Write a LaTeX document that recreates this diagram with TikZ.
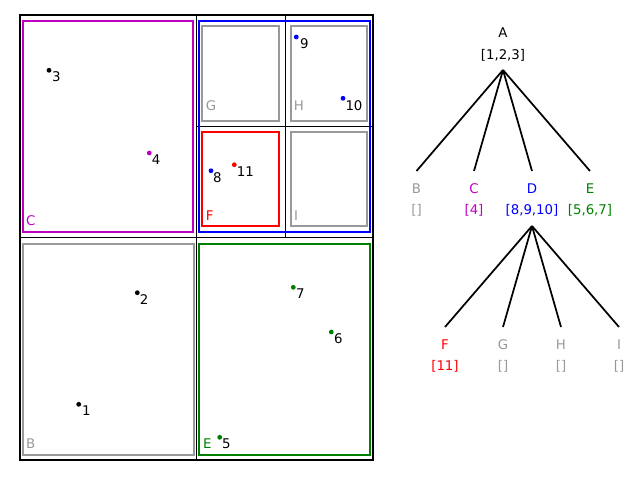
\documentclass[tikz,border=0pt]{standalone}
\usepackage{fontspec}
\setmainfont{DejaVu Sans}
\definecolor{cgray}{RGB}{153,153,153}
\definecolor{cmag}{RGB}{191,0,191}
\definecolor{cgreen}{RGB}{0,128,0}
\definecolor{cblue}{RGB}{0,0,255}
\definecolor{cred}{RGB}{255,0,0}
\begin{document}
\begin{tikzpicture}[x=0.75pt,y=-0.75pt,
  grid/.style={draw=black,line width=1pt},
  region/.style={line width=1.5pt},
  pt/.style={circle,inner sep=0pt,minimum size=3.6pt},
  lbl/.style={inner sep=0pt,font=\fontsize{10pt}{12pt}\selectfont},
  edge/.style={line width=1.3pt,black}]
\useasboundingbox (0,0) rectangle (640,480);
% grid
\draw[grid] (20,15) rectangle (373,460);
\draw[grid] (196.5,15) -- (196.5,460);
\draw[grid] (20,237.5) -- (373,237.5);
\draw[grid] (285.5,15) -- (285.5,237.5);
\draw[grid] (196.5,126.5) -- (373,126.5);
% regions
\draw[region,cmag] (22.5,21) rectangle (193,231.5);
\draw[region,cgray] (22.5,243.5) rectangle (193.5,455);
\draw[region,cblue] (199,21) rectangle (370,231.5);
\draw[region,cgreen] (199,243.5) rectangle (370,455);
\draw[region,cgray] (202,26) rectangle (279,121);
\draw[region,cgray] (290.5,26) rectangle (367,121);
\draw[region,cred] (202,132) rectangle (279,226);
\draw[region,cgray] (290.5,132) rectangle (367,226);
% region labels
\node[lbl,text=cmag] (rC) at (30.7,220.7) {C};
\node[lbl,text=cgray] (rB) at (30.7,443.3) {B};
\node[lbl,text=cgreen] (rE) at (207.3,443.3) {E};
\node[lbl,text=cgray] (rG) at (211,105.3) {G};
\node[lbl,text=cgray] (rH) at (299,105.3) {H};
\node[lbl,text=cred] (rF) at (209.7,216) {F};
\node[lbl,text=cgray] (rI) at (296,216) {I};
% points
\node[pt,fill=black] (p1) at (78.7,404.3) {};
\node[pt,fill=black] (p2) at (137.3,292.7) {};
\node[pt,fill=black] (p3) at (49,70.3) {};
\node[pt,fill=cmag] (p4) at (149.3,153) {};
\node[pt,fill=cgreen] (p5) at (219.7,437.3) {};
\node[pt,fill=cgreen] (p6) at (331.3,332) {};
\node[pt,fill=cgreen] (p7) at (293.3,287.3) {};
\node[pt,fill=cblue] (p8) at (211,170.7) {};
\node[pt,fill=cblue] (p9) at (296.3,37) {};
\node[pt,fill=cblue] (p10) at (343,98.3) {};
\node[pt,fill=cred] (p11) at (234.3,164.7) {};
\node[lbl] (t1) at (86.3,411) {1};
\node[lbl] (t2) at (144,299.3) {2};
\node[lbl] (t3) at (56.3,77) {3};
\node[lbl] (t4) at (156,159.5) {4};
\node[lbl] (t5) at (226.3,443.5) {5};
\node[lbl] (t6) at (338.3,338.5) {6};
\node[lbl] (t7) at (300.3,294) {7};
\node[lbl] (t8) at (217.3,177.5) {8};
\node[lbl] (t9) at (304.3,43.5) {9};
\node[lbl] (t10) at (354,105.3) {10};
\node[lbl] (t11) at (245.3,171.5) {11};
% tree
\node[lbl] (A) at (503,32.5) {A};
\node[lbl] (Al) at (503,55.5) {[1,2,3]};
\coordinate (Aa) at (503,70);
\node[lbl,text=cgray] (B) at (416.5,188.5) {B};
\node[lbl,text=cgray] (Bl) at (416.5,210.5) {[]};
\node[lbl,text=cmag] (C) at (474,188.5) {C};
\node[lbl,text=cmag] (Cl) at (474,210.5) {[4]};
\node[lbl,text=cblue] (D) at (532,188.5) {D};
\node[lbl,text=cblue] (Dl) at (532,210.5) {[8,9,10]};
\node[lbl,text=cgreen] (E) at (590,188.5) {E};
\node[lbl,text=cgreen] (El) at (590,210.5) {[5,6,7]};
\coordinate (Bt) at (416.5,171);
\coordinate (Ct) at (474,171);
\coordinate (Dt) at (532,171);
\coordinate (Et) at (590,171);
\draw[edge] (Aa) -- (Bt);
\draw[edge] (Aa) -- (Ct);
\draw[edge] (Aa) -- (Dt);
\draw[edge] (Aa) -- (Et);
\coordinate (Da) at (532,226);
\node[lbl,text=cred] (F) at (445,344.5) {F};
\node[lbl,text=cred] (Fl) at (445,366) {[11]};
\node[lbl,text=cgray] (G) at (503,344.5) {G};
\node[lbl,text=cgray] (Gl) at (503,366) {[]};
\node[lbl,text=cgray] (H) at (561,344.5) {H};
\node[lbl,text=cgray] (Hl) at (561,366) {[]};
\node[lbl,text=cgray] (I) at (619,344.5) {I};
\node[lbl,text=cgray] (Il) at (619,366) {[]};
\coordinate (Ft) at (445,327);
\coordinate (Gt) at (503,327);
\coordinate (Ht) at (561,327);
\coordinate (It) at (619,327);
\draw[edge] (Da) -- (Ft);
\draw[edge] (Da) -- (Gt);
\draw[edge] (Da) -- (Ht);
\draw[edge] (Da) -- (It);
\end{tikzpicture}
\end{document}
